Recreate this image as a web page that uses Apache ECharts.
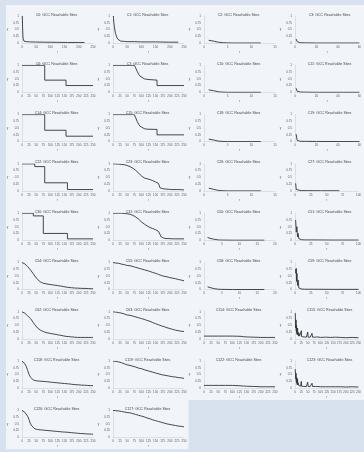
<!DOCTYPE html>
<html><head><meta charset="utf-8">
<script src="https://cdn.jsdelivr.net/npm/echarts@6/dist/echarts.min.js"></script>
<style>html,body{margin:0;padding:0;background:#d8e2ee}#c{width:364px;height:452px}</style>
</head><body><div id="c"></div>
<script>
// x sample positions (step 5) for the dense series
const x5 = [0,5,10,15,20,25,30,35,40,45,50,55,60,65,70,75,80,85,90,95,100,105,110,115,120,125,130,135,140,145,150,155,160,165,170,175,180,185,190,195,200,205,210,215,220,225,230,235,240,245,250];

const c0 = [[1,1],[2,0.6],[3,0.3],[4,0.15],[5,0.1],[7,0.07],[10,0.06],[15,0.05],[20,0.045],[30,0.04],[50,0.035],[80,0.03],[120,0.025],[160,0.02],[200,0.02],[220,0.02]];
const c1 = [[1,1],[2,0.9],[3,0.75],[4,0.8],[5,0.6],[6,0.65],[7,0.45],[8,0.5],[9,0.35],[10,0.4],[11,0.28],[12,0.32],[13,0.22],[14,0.26],[15,0.18],[16,0.2],[17,0.14],[18,0.17],[19,0.12],[20,0.14],[21,0.1],[22,0.12],[23,0.09],[24,0.1],[25,0.08],[26,0.09],[27,0.07],[28,0.08],[29,0.06],[30,0.07],[40,0.06],[50,0.05],[75,0.05],[100,0.04],[150,0.04],[200,0.03],[230,0.03]];
const c2 = [[1,0.1],[2,0.07],[3,0.03],[4,0.01],[5,0.005],[6,0],[8,0],[10,0],[12,0]];
const c3 = [[1,0.15],[2,0.05],[3,0.03],[4,0.02],[6,0.01],[10,0.005],[20,0],[40,0],[60,0]];
const c6 = [[0,1],[80,1],[80,0.45],[155,0.45],[155,0.25],[250,0.25]];
const c7 = [[0,1],[75,1],[80,0.9],[85,0.78],[90,0.68],[95,0.6],[100,0.55],[110,0.5],[120,0.48],[130,0.47],[155,0.45],[155,0.25],[250,0.25]];
const c10 = [[1,0.09],[2,0.06],[3,0.02],[4,0.005],[5,0],[8,0],[12,0]];
const c11 = [[1,0.15],[2,0.04],[3,0.02],[5,0.01],[10,0.005],[20,0],[60,0]];
const c14 = [[0,1],[80,1],[80,0.42],[155,0.42],[155,0.2],[250,0.2]];
const c15 = [[0,1],[75,1],[80,0.88],[85,0.75],[90,0.65],[95,0.57],[100,0.52],[110,0.48],[120,0.46],[155,0.45],[155,0.25],[250,0.25]];
const c18 = [[1,0.09],[2,0.06],[3,0.02],[4,0.005],[5,0],[8,0],[12,0]];
const c19 = [[1,0.28],[2,0.05],[3,0.03],[4,0.02],[6,0.01],[10,0.01],[20,0.005],[60,0]];
const c22 = [[0,1],[45,1],[45,0.9],[80,0.9],[80,0.3],[160,0.3],[160,0.05],[250,0.05]];
const c23y = [1,1,1,1,0.99,0.99,0.98,0.97,0.97,0.96,0.94,0.92,0.9,0.86,0.84,0.78,0.76,0.7,0.66,0.6,0.56,0.5,0.48,0.44,0.45,0.4,0.42,0.37,0.38,0.34,0.33,0.3,0.28,0.12,0.09,0.08,0.07,0.07,0.06,0.06,0.06,0.05,0.05,0.05,0.05,0.05,0.04,0.05,0.04,0.04,0.04];
const c26 = [[1,0.1],[2,0.06],[3,0.02],[4,0.005],[5,0],[8,0],[12,0]];
const c27 = [[1,0.28],[2,0.05],[3,0.03],[5,0.02],[10,0.01],[20,0.01],[40,0.005],[70,0.005]];
const c30 = [[0,1],[40,1],[40,0.9],[75,0.9],[75,0.25],[160,0.25],[160,0.05],[250,0.05]];
const c31y = [1,1,1,1,1,1,1,1,0.99,0.99,0.98,0.97,0.96,0.94,0.92,0.9,0.86,0.82,0.78,0.72,0.68,0.62,0.6,0.55,0.53,0.49,0.47,0.44,0.43,0.4,0.39,0.36,0.33,0.3,0.12,0.08,0.07,0.07,0.06,0.06,0.06,0.06,0.05,0.05,0.05,0.05,0.05,0.05,0.05,0.05,0.05];
const c50 = [[1,0.1],[2,0.06],[3,0.03],[4,0.01],[5,0.005],[8,0],[17,0]];
const c51 = [[1,0.75],[2,0.3],[3,0.5],[4,0.12],[5,0.25],[6,0.06],[7,0.1],[8,0.03],[10,0.02],[15,0.01],[30,0.01],[60,0.005],[100,0.005]];
const c54y = [1,0.98,0.95,0.9,0.85,0.8,0.72,0.65,0.58,0.5,0.43,0.37,0.32,0.28,0.25,0.23,0.22,0.21,0.2,0.19,0.18,0.175,0.17,0.16,0.15,0.145,0.14,0.13,0.12,0.11,0.1,0.09,0.08,0.075,0.07,0.065,0.06,0.055,0.055,0.05,0.05,0.045,0.045,0.04,0.04,0.04,0.035,0.035,0.03,0.03,0.03];
const c55y = [1,0.99,0.98,0.97,0.97,0.95,0.94,0.93,0.92,0.9,0.89,0.87,0.88,0.84,0.85,0.81,0.82,0.78,0.79,0.75,0.76,0.72,0.73,0.68,0.7,0.64,0.67,0.6,0.63,0.57,0.6,0.53,0.56,0.5,0.52,0.47,0.49,0.44,0.47,0.41,0.44,0.38,0.42,0.36,0.4,0.34,0.37,0.32,0.35,0.3,0.32];
const c58 = [[1,0.1],[2,0.06],[3,0.03],[4,0.01],[5,0.005],[8,0],[17,0]];
const c59 = [[1,0.75],[1.5,0.6],[2,0.78],[2.5,0.3],[3,0.6],[4,0.15],[5,0.35],[6,0.06],[7,0.12],[8,0.03],[10,0.02],[15,0.01],[30,0.01],[60,0.005],[100,0.005]];
const c62y = [1,0.97,0.95,0.9,0.85,0.8,0.75,0.68,0.6,0.52,0.45,0.4,0.35,0.32,0.3,0.27,0.25,0.23,0.22,0.21,0.2,0.19,0.18,0.17,0.16,0.15,0.14,0.13,0.12,0.11,0.1,0.09,0.085,0.08,0.075,0.07,0.065,0.06,0.055,0.05,0.05,0.05,0.05,0.05,0.05,0.05,0.05,0.05,0.05,0.05,0.05];
const c63y = [1,0.99,0.99,0.98,0.97,0.96,0.95,0.93,0.92,0.9,0.88,0.86,0.87,0.83,0.84,0.8,0.81,0.77,0.78,0.74,0.75,0.7,0.72,0.66,0.68,0.62,0.65,0.58,0.6,0.54,0.56,0.5,0.52,0.46,0.48,0.42,0.45,0.39,0.41,0.36,0.38,0.33,0.35,0.3,0.32,0.28,0.3,0.26,0.28,0.25,0.27];
const c114 = [[0,0.1],[25,0.1],[50,0.1],[75,0.1],[100,0.1],[120,0.095],[125,0.08],[130,0.09],[140,0.075],[150,0.07],[160,0.065],[175,0.06],[200,0.05],[225,0.05],[250,0.05]];
const c115 = [[1,0.95],[2,0.6],[3,0.4],[4,0.7],[5,0.3],[6,0.5],[7,0.2],[8,0.35],[9,0.15],[10,0.4],[11,0.15],[12,0.25],[14,0.1],[16,0.2],[18,0.1],[20,0.12],[22,0.08],[24,0.15],[25,0.3],[26,0.08],[30,0.1],[35,0.07],[40,0.1],[45,0.06],[48,0.08],[50,0.25],[52,0.06],[55,0.08],[60,0.06],[65,0.1],[67,0.2],[69,0.06],[75,0.08],[80,0.06],[90,0.07],[100,0.05],[120,0.06],[140,0.05],[160,0.06],[180,0.05],[200,0.04],[225,0.05],[250,0.04]];
const c118y = [1,0.97,0.9,0.8,0.65,0.5,0.4,0.33,0.3,0.28,0.27,0.265,0.26,0.255,0.25,0.25,0.245,0.24,0.235,0.23,0.22,0.215,0.21,0.205,0.2,0.2,0.19,0.185,0.18,0.175,0.17,0.165,0.16,0.15,0.15,0.14,0.135,0.13,0.125,0.12,0.12,0.115,0.11,0.11,0.105,0.1,0.1,0.095,0.09,0.09,0.09];
const c119y = [1,1,0.99,0.98,0.97,0.95,0.94,0.92,0.9,0.88,0.86,0.83,0.84,0.8,0.81,0.76,0.78,0.73,0.74,0.7,0.72,0.66,0.68,0.63,0.65,0.6,0.62,0.56,0.59,0.54,0.56,0.5,0.53,0.48,0.5,0.45,0.48,0.43,0.46,0.41,0.44,0.4,0.42,0.38,0.41,0.37,0.39,0.35,0.38,0.35,0.36];
const c122 = [[0,0.1],[25,0.1],[50,0.1],[75,0.1],[100,0.1],[120,0.09],[130,0.085],[140,0.075],[150,0.07],[175,0.06],[200,0.05],[225,0.05],[250,0.05]];
const c123 = [[1,0.7],[2,0.5],[3,0.35],[4,0.55],[5,0.25],[6,0.4],[7,0.18],[8,0.3],[9,0.12],[10,0.35],[11,0.12],[12,0.2],[14,0.1],[16,0.15],[18,0.08],[20,0.1],[22,0.07],[24,0.12],[25,0.25],[26,0.07],[30,0.09],[35,0.06],[40,0.08],[45,0.06],[48,0.07],[50,0.22],[52,0.06],[55,0.07],[60,0.06],[65,0.09],[67,0.18],[69,0.06],[75,0.07],[80,0.06],[90,0.06],[100,0.05],[120,0.05],[140,0.05],[160,0.05],[180,0.05],[200,0.04],[225,0.05],[250,0.04]];
const c126y = [1,0.97,0.93,0.88,0.78,0.65,0.5,0.42,0.36,0.32,0.3,0.29,0.285,0.28,0.275,0.27,0.265,0.26,0.255,0.25,0.245,0.24,0.235,0.23,0.225,0.22,0.215,0.21,0.205,0.2,0.2,0.195,0.19,0.185,0.18,0.175,0.17,0.165,0.16,0.155,0.15,0.145,0.14,0.14,0.135,0.13,0.13,0.125,0.12,0.12,0.12];
const c127y = [1,1,0.99,0.99,0.98,0.97,0.96,0.95,0.94,0.93,0.92,0.9,0.91,0.87,0.88,0.84,0.85,0.81,0.82,0.78,0.79,0.74,0.76,0.7,0.72,0.66,0.69,0.63,0.65,0.6,0.62,0.57,0.59,0.54,0.56,0.51,0.53,0.48,0.5,0.46,0.48,0.44,0.46,0.42,0.44,0.4,0.42,0.38,0.41,0.37,0.39];

const pair = ys => ys.map((v,i)=>[x5[i],v]);

// name, data, x max, x interval
const panels = [
 ['C0',c0,250,50],['C1',c1,250,50],['C2',c2,15,5],['C3',c3,60,20],
 ['C6',c6,250,25],['C7',c7,250,25],['C10',c10,15,5],['C11',c11,60,20],
 ['C14',c14,250,25],['C15',c15,250,25],['C18',c18,15,5],['C19',c19,60,20],
 ['C22',c22,250,25],['C23',pair(c23y),250,25],['C26',c26,15,5],['C27',c27,100,25],
 ['C30',c30,250,25],['C31',pair(c31y),250,25],['C50',c50,20,5],['C51',c51,100,25],
 ['C54',pair(c54y),250,25],['C55',pair(c55y),250,25],['C58',c58,20,5],['C59',c59,100,25],
 ['C62',pair(c62y),250,25],['C63',pair(c63y),250,25],['C114',c114,250,25],['C115',c115,250,25],
 ['C118',pair(c118y),250,25],['C119',pair(c119y),250,25],['C122',c122,250,25],['C123',c123,250,25],
 ['C126',pair(c126y),250,25],['C127',pair(c127y),250,25]
];

const PW = 91, PH = 49.3;
const titles=[], grids=[], xAxes=[], yAxes=[], series=[], graphics=[];
const lab = {fontSize:3, color:'#595959', fontFamily:'Liberation Sans'};
panels.forEach((p,i)=>{
  const col=i%4, row=Math.floor(i/4);
  const L=6+col*PW, T=5+row*PH;
  graphics.push({type:'rect', shape:{x:L,y:T,width:PW+0.5,height:PH+0.5}, style:{fill:'#f1f5fa'}, z:-10, silent:true});
  titles.push({text:p[0]+': GCC Reachable Sites', left:L+PW/2, top:T+2.5, textAlign:'center',
    textStyle:{fontSize:3.6, fontWeight:'normal', color:'#404040', fontFamily:'Liberation Sans'}});
  grids.push({left:L+16, top:T+11, width:71, height:27, containLabel:false});
  xAxes.push({type:'value', gridIndex:i, min:0, max:p[2], interval:p[3], name:'r', nameLocation:'middle', nameGap:7.5,
    nameTextStyle:lab, axisLine:{show:true, onZero:false, lineStyle:{color:'#d0d0d0', width:0.6}}, axisTick:{show:false},
    splitLine:{show:false}, axisLabel:Object.assign({margin:2.5, hideOverlap:false, showMaxLabel:true, showMinLabel:true}, lab)});
  yAxes.push({type:'value', gridIndex:i, min:0, max:1, interval:0.25, name:'y', nameLocation:'middle', nameGap:11, nameRotate:0,
    nameTextStyle:lab, axisLine:{show:true, lineStyle:{color:'#d0d0d0', width:0.6}}, axisTick:{show:false},
    splitLine:{show:false}, axisLabel:Object.assign({margin:3, hideOverlap:false}, lab)});
  series.push({type:'line', xAxisIndex:i, yAxisIndex:i, data:p[1], showSymbol:false, symbol:'none',
    lineStyle:{color:'#333333', width:0.9}, animation:false, silent:true});
});

const chart = echarts.init(document.getElementById('c'), null, {renderer:'canvas'});
chart.setOption({
  backgroundColor:'#d8e2ee', animation:false,
  title:titles, grid:grids, xAxis:xAxes, yAxis:yAxes, series:series, graphic:graphics
});
</script></body></html>
